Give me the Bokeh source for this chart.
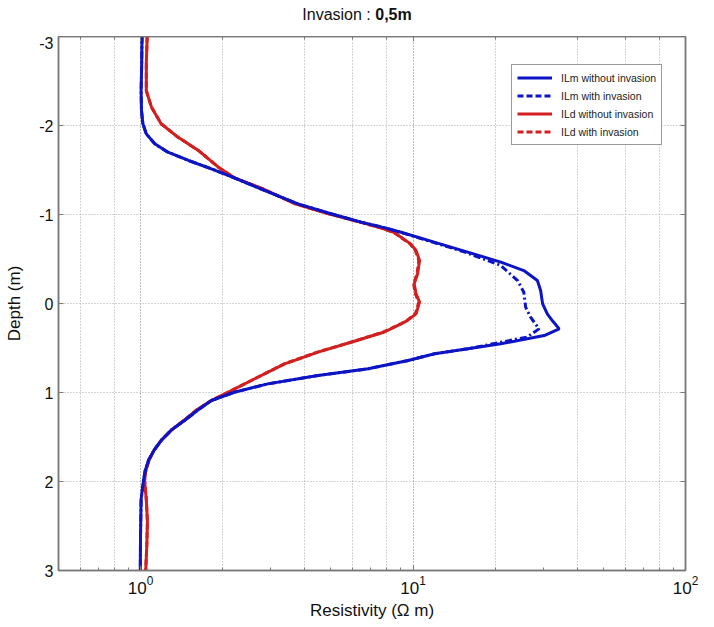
from bokeh.plotting import figure
from bokeh.models import (Range1d, FixedTicker, LinearAxis, LogAxis, Legend, LegendItem, LogTicker,
                          CustomJSTickFormatter, Div)
from bokeh.layouts import column
from bokeh.embed import file_html
from bokeh.resources import INLINE

# ILm without invasion (blue solid)
ilm_wo_depth = [-3.0, -2.7, -2.39, -2.17, -2.02, -1.906, -1.794, -1.70, -1.607, -1.513, -1.412, -1.27,
                -1.12, -1.008, -0.914, -0.85, -0.80, -0.689, -0.577, -0.465, -0.37, -0.258, -0.146,
                0.004, 0.116, 0.2, 0.285, 0.36, 0.453, 0.509, 0.565, 0.64, 0.734, 0.809, 0.903, 0.997,
                1.09, 1.2, 1.315, 1.42, 1.54, 1.65, 1.76, 1.88, 1.99, 2.2, 2.6, 3.0]
ilm_wo_res = [1.013, 1.01, 1.005, 1.008, 1.02, 1.05, 1.128, 1.26, 1.50, 1.82, 2.21, 2.85,
              3.78, 5.0, 6.45, 7.9, 9.04, 11.96, 15.87, 21.0, 25.5, 28.6, 29.4,
              29.9, 31.1, 32.6, 34.4, 30.3, 21.0, 15.9, 12.0, 9.6, 6.84, 4.48, 2.93, 2.21,
              1.82, 1.62, 1.45, 1.3, 1.19, 1.12, 1.07, 1.04, 1.025, 1.005, 1.0, 0.998]

# ILm with invasion (blue dashed)
ilm_w_depth = [-3.0, -2.7, -2.39, -2.17, -2.02, -1.906, -1.794, -1.70, -1.607, -1.513, -1.412, -1.27,
               -1.12, -1.008, -0.914, -0.85, -0.80, -0.689, -0.577, -0.427, -0.258, -0.127, 0.041,
               0.154, 0.285, 0.378, 0.435, 0.509, 0.565, 0.64, 0.734, 0.809, 0.903, 0.997, 1.09, 1.2,
               1.315, 1.42, 1.54, 1.65, 1.76, 1.88, 1.99, 2.2, 2.6, 3.0]
ilm_w_res = [1.013, 1.01, 1.005, 1.008, 1.02, 1.05, 1.128, 1.26, 1.50, 1.82, 2.21, 2.85,
             3.78, 5.0, 6.45, 7.9, 9.0, 11.8, 15.5, 21.0, 24.2, 25.5, 25.9,
             27.0, 29.0, 26.2, 21.0, 15.9, 12.0, 9.6, 6.84, 4.48, 2.93, 2.21, 1.82, 1.62,
             1.45, 1.3, 1.19, 1.12, 1.07, 1.04, 1.025, 1.005, 1.0, 0.998]

# ILd without invasion (red solid)
ild_wo_depth = [-3.0, -2.7, -2.39, -2.206, -2.02, -1.87, -1.72, -1.532, -1.412, -1.29, -1.12, -1.008,
                -0.914, -0.85, -0.80, -0.745, -0.67, -0.596, -0.483, -0.334, -0.221, -0.109, -0.015,
                0.116, 0.19, 0.23, 0.32, 0.435, 0.547, 0.678, 0.865, 1.015, 1.09, 1.2, 1.315, 1.42,
                1.54, 1.65, 1.76, 1.88, 1.99, 2.2, 2.45, 2.7, 3.0]
ild_wo_res = [1.058, 1.05, 1.05, 1.097, 1.19, 1.37, 1.63, 1.93, 2.21, 2.8, 3.7, 4.9,
              6.4, 7.6, 8.5, 9.04, 9.8, 10.26, 10.57, 10.4, 10.1, 10.26, 10.57,
              10.26, 9.55, 9.04, 7.85, 5.93, 4.48, 3.38, 2.55, 2.04, 1.82, 1.6, 1.44, 1.3,
              1.19, 1.12, 1.075, 1.045, 1.035, 1.05, 1.06, 1.055, 1.045]

# ILd with invasion (red dashed, hidden under the solid one)
ild_w_depth = [-3.0, -2.7, -2.39, -2.206, -2.02, -1.87, -1.72, -1.532, -1.412, -1.29, -1.12, -1.008,
               -0.914, -0.85, -0.80, -0.745, -0.67, -0.596, -0.483, -0.334, -0.221, -0.109, -0.015,
               0.116, 0.19, 0.23, 0.32, 0.435, 0.547, 0.678, 0.865, 1.015, 1.09, 1.2, 1.315, 1.42,
               1.54, 1.65, 1.76, 1.88, 1.99, 2.2, 2.45, 2.7, 3.0]
ild_w_res = [1.058, 1.05, 1.05, 1.097, 1.19, 1.37, 1.63, 1.93, 2.21, 2.8, 3.7, 4.9,
             6.4, 7.6, 8.5, 9.0, 9.75, 10.2, 10.5, 10.35, 10.05, 10.2, 10.5,
             10.2, 9.5, 9.0, 7.8, 5.9, 4.46, 3.37, 2.55, 2.04, 1.82, 1.6, 1.44, 1.3,
             1.19, 1.12, 1.075, 1.045, 1.035, 1.05, 1.06, 1.055, 1.045]

y_ticks = [-3, -2, -1, 0, 1, 2, 3]
y_tick_labels = ["-3", "-2", "-1", "0", "1", "2", "3"]
legend_labels = ["ILm without invasion", "ILm with invasion", "ILd without invasion", "ILd with invasion"]
title_left = "Invasion :"
title_right = "0,5m"

BLUE = "#0d14c4"
RED = "#d21f1f"
FONT = "Liberation Sans"
GRID = "#a8a8a8"
AX = "#7a7a7a"

TITLE_H = 36

p = figure(width=714, height=627 - TITLE_H, x_axis_type="log", x_range=Range1d(0.5, 100),
           y_range=Range1d(3, -3), output_backend="svg", toolbar_location=None,
           min_border_left=58, min_border_right=29, min_border_top=0, min_border_bottom=57,
           background_fill_color="white", border_fill_color="white")

p.outline_line_color = AX
p.outline_line_width = 1.5

# axes styling
p.xaxis.axis_label = "Resistivity (\u03a9 m)"
p.yaxis.axis_label = "Depth (m)"
for ax in (p.xaxis[0], p.yaxis[0]):
    ax.axis_label_text_font = FONT
    ax.axis_label_text_font_size = "17px"
    ax.axis_label_text_font_style = "normal"
    ax.axis_label_text_color = "#111111"
    ax.major_label_text_font = FONT
    ax.major_label_text_color = "#111111"
    ax.axis_line_color = AX
    ax.axis_line_width = 1.5
    ax.major_tick_line_color = AX
    ax.minor_tick_line_color = AX
    ax.major_tick_in = 5
    ax.major_tick_out = 0
    ax.minor_tick_in = 3
    ax.minor_tick_out = 0
p.xaxis.major_label_text_font_size = "17px"
p.yaxis.major_label_text_font_size = "16px"
p.yaxis.ticker = FixedTicker(ticks=y_ticks)
p.yaxis.major_label_overrides = {t: s for t, s in zip(y_ticks, y_tick_labels)}
p.yaxis.minor_tick_line_color = None
p.yaxis.axis_label_standoff = 12
p.xaxis.axis_label_standoff = 4

# tick marks on the right and top edges, without labels
blank = CustomJSTickFormatter(code="return ''")
right_ax = LinearAxis(ticker=FixedTicker(ticks=y_ticks), formatter=blank,
                      axis_line_color=AX, major_tick_line_color=AX, major_tick_in=5,
                      major_tick_out=0, minor_tick_line_color=None, axis_line_width=1.5,
                      major_label_standoff=0)
p.add_layout(right_ax, "right")
top_ax = LogAxis(formatter=blank, axis_line_color=AX, major_tick_line_color=AX,
                 minor_tick_line_color=AX, major_tick_in=5, major_tick_out=0,
                 minor_tick_in=3, minor_tick_out=0, axis_line_width=1.5, major_label_standoff=0)
p.add_layout(top_ax, "above")

# grids
p.xgrid.ticker = LogTicker()
p.xgrid.grid_line_color = GRID
p.xgrid.grid_line_dash = "1 2"
p.xgrid.minor_grid_line_color = GRID
p.xgrid.minor_grid_line_dash = "1 2"
p.ygrid.ticker = FixedTicker(ticks=y_ticks)
p.ygrid.grid_line_color = GRID
p.ygrid.grid_line_dash = "1 2"

# curves
p.line(ild_w_res, ild_w_depth, line_color=RED, line_width=3, line_dash="6 3")
p.line(ild_wo_res, ild_wo_depth, line_color=RED, line_width=3)
p.line(ilm_wo_res, ilm_wo_depth, line_color=BLUE, line_width=3)
p.line(ilm_w_res, ilm_w_depth, line_color=BLUE, line_width=3, line_dash="7 3 2 3")

# legend swatches (off-range glyphs, styled like the legend)
off_x = [0.01, 0.011]
off_y = [10, 11]
lg_blue = p.line(off_x, off_y, line_color=BLUE, line_width=3)
lg_blue_d = p.line(off_x, off_y, line_color=BLUE, line_width=3, line_dash="6 3")
lg_red = p.line(off_x, off_y, line_color=RED, line_width=3)
lg_red_d = p.line(off_x, off_y, line_color=RED, line_width=3, line_dash="6 3")

legend = Legend(items=[LegendItem(label=legend_labels[0], renderers=[lg_blue]),
                       LegendItem(label=legend_labels[1], renderers=[lg_blue_d]),
                       LegendItem(label=legend_labels[2], renderers=[lg_red]),
                       LegendItem(label=legend_labels[3], renderers=[lg_red_d])],
                location=(453, 425))
legend.label_text_font = FONT
legend.label_text_font_size = "10.5px"
legend.label_text_color = "#222222"
legend.label_height = 15
legend.glyph_height = 15
legend.glyph_width = 35
legend.label_standoff = 9
legend.spacing = 3
legend.padding = 5
legend.margin = 0
legend.border_line_color = "#333333"
legend.border_line_width = 1
legend.background_fill_color = "white"
legend.background_fill_alpha = 1.0
p.add_layout(legend, "center")

# title: "Invasion :" normal + "0,5m" bold
title_div = Div(text=f"{title_left} <b>{title_right}</b>", width=714, height=TITLE_H, margin=0,
                styles={"font-family": FONT, "font-size": "16px", "color": "#111111",
                        "text-align": "center", "line-height": "30px", "padding-left": "0px"})

layout = column(title_div, p, spacing=0)
open("out.html", "w").write(file_html(layout, INLINE))
